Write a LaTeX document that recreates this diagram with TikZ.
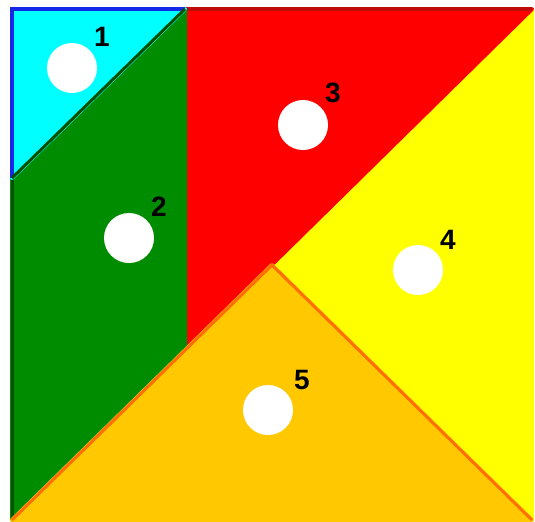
\documentclass[tikz,border=0pt]{standalone}
\usepackage{fontspec}
\setmainfont{Liberation Sans}
\usetikzlibrary{positioning}

\definecolor{tanCyan}{RGB}{0,255,255}
\definecolor{tanBlue}{RGB}{20,40,230}
\definecolor{tanGreen}{RGB}{0,140,0}
\definecolor{tanDarkGreen}{RGB}{0,80,0}
\definecolor{tanRed}{RGB}{255,0,0}
\definecolor{tanDarkRed}{RGB}{190,10,10}
\definecolor{tanYellow}{RGB}{255,255,0}
\definecolor{tanOrange}{RGB}{255,200,0}
\definecolor{tanEdge}{RGB}{255,110,0}

\begin{document}
\begin{tikzpicture}[
    x=0.5pt, y=-0.5pt,
    hole/.style = {
        circle,
        fill=white,
        minimum size=25pt,
        inner sep=0pt
    },
    num/.style = {
        font=\fontsize{14}{14}\selectfont\bfseries,
        text=black,
        inner sep=0pt
    },
    piece/.style = {line width=2pt, line join=round}
]

\useasboundingbox (0,0) rectangle (535,521);

%% ── Piezas ──────────────────────────────────────────────────────────────────

% 4: triangulo amarillo
\filldraw[piece, fill=tanYellow, draw=tanYellow]
    (532,9) -- (532,520) -- (272,265) -- cycle;

% 3: triangulo rojo
\filldraw[piece, fill=tanRed, draw=tanRed]
    (185,9) -- (532,9) -- (185,350) -- cycle;
\draw[line width=2pt, tanDarkRed] (185,9) -- (532,9);

% 2: paralelogramo verde
\filldraw[piece, fill=tanGreen, draw=tanGreen]
    (12,178) -- (185,9) -- (185,350) -- (12,520) -- cycle;
\draw[line width=1.5pt, tanDarkGreen] (12,178) -- (12,520);

% 1: triangulo cian
\filldraw[piece, fill=tanCyan, draw=tanCyan]
    (12,9) -- (185,9) -- (12,178) -- cycle;
\draw[line width=2pt, tanBlue] (12,178) -- (12,9) -- (185,9);
\draw[line width=1.5pt, tanDarkGreen] (12,178) -- (185,9);

% 5: triangulo naranja
\filldraw[piece, fill=tanOrange, draw=tanOrange]
    (12,520) -- (532,520) -- (272,265) -- cycle;
\draw[line width=1.5pt, tanEdge] (12,520) -- (272,265) -- (532,520);

%% ── Agujeros y numeros ──────────────────────────────────────────────────────

\node[hole] (h1) at (72,68)   {};
\node[hole] (h2) at (129,238) {};
\node[hole] (h3) at (303,125) {};
\node[hole] (h4) at (418,270) {};
\node[hole] (h5) at (268,410) {};

\node[num] (n1) at (102,37)  {1};
\node[num] (n2) at (159,207) {2};
\node[num] (n3) at (333,93)  {3};
\node[num] (n4) at (448,240) {4};
\node[num] (n5) at (302,380) {5};

\end{tikzpicture}
\end{document}
